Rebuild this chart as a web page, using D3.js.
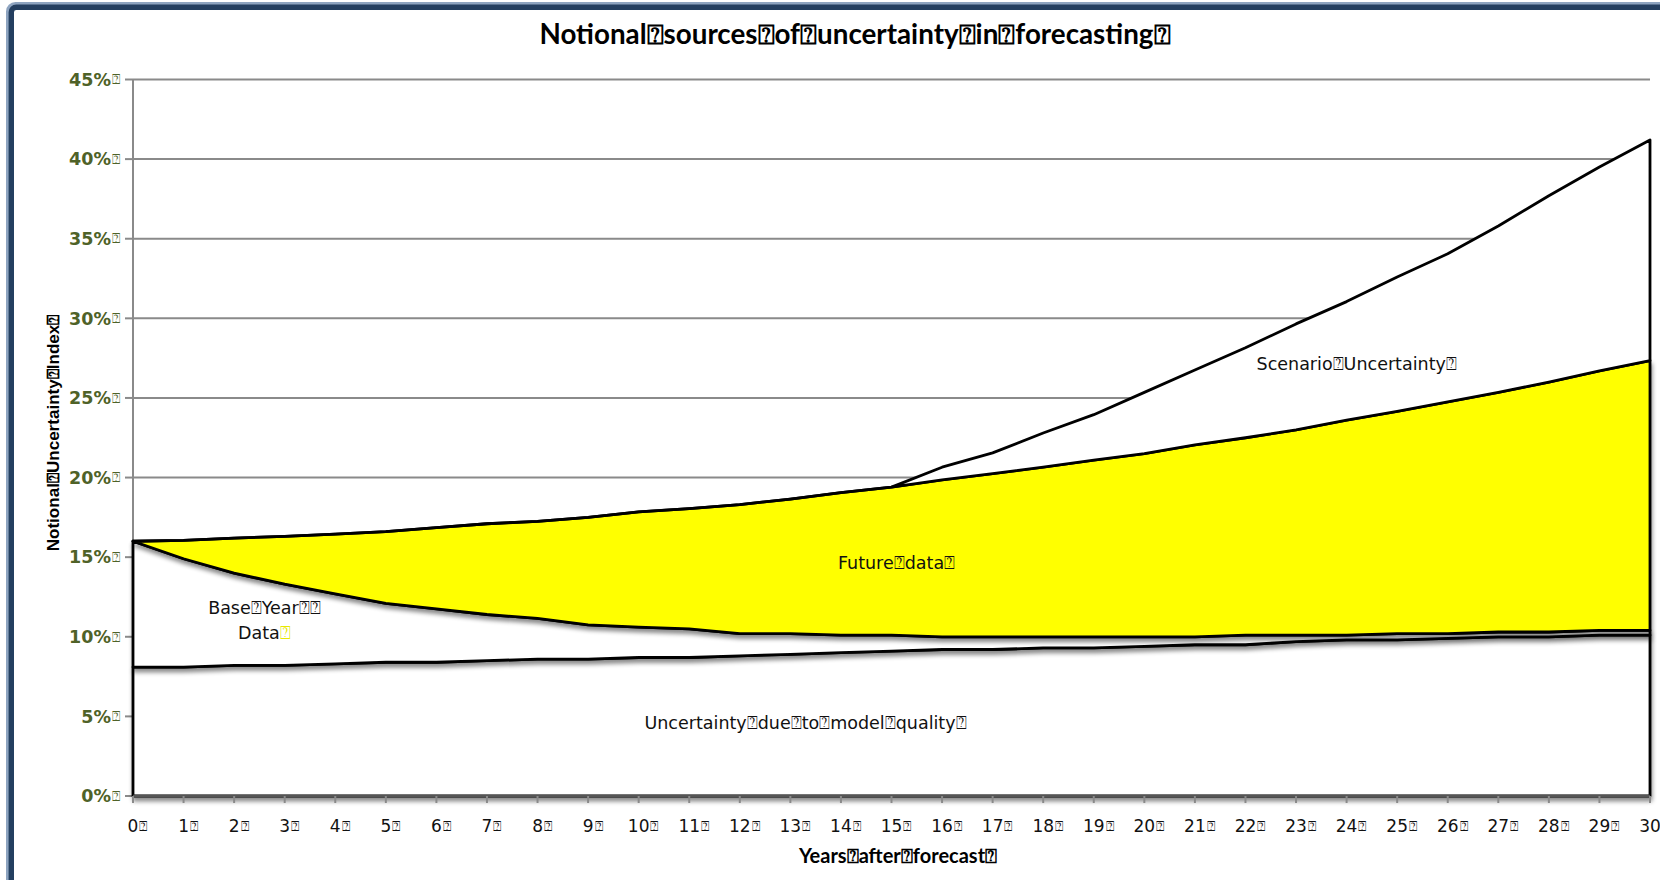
<!DOCTYPE html>
<html>
<head>
<meta charset="utf-8">
<script src="https://cdn.jsdelivr.net/npm/d3@7"></script>
<style>
  body { margin: 0; background: #fff; }
</style>
</head>
<body>
<svg id="chart" width="1660" height="880"></svg>
<script>
// years after forecast
var years = [0,1,2,3,4,5,6,7,8,9,10,11,12,13,14,15,16,17,18,19,20,21,22,23,24,25,26,27,28,29,30];

// stacked series, % points each
var modelQuality = [8.1,8.1,8.2,8.2,8.3,8.4,8.4,8.5,8.6,8.6,8.7,8.7,8.8,8.9,9.0,9.1,9.2,9.2,9.3,9.3,9.4,9.5,9.5,9.7,9.8,9.8,9.9,10.0,10.0,10.1,10.1];
var baseYearData = [7.9,6.8,5.8,5.1,4.4,3.7,3.35,2.9,2.55,2.15,1.9,1.8,1.4,1.3,1.1,1.0,0.8,0.8,0.7,0.7,0.6,0.5,0.6,0.4,0.3,0.4,0.3,0.3,0.3,0.3,0.3];
var futureData = [0,1.15,2.2,3.0,3.75,4.5,5.1,5.7,6.1,6.75,7.25,7.55,8.1,8.45,8.95,9.3,9.85,10.25,10.65,11.1,11.5,12.05,12.4,12.9,13.5,13.95,14.55,15.05,15.7,16.3,16.95];
var scenarioUncertainty = [0,0,0,0,0,0,0,0,0,0,0,0,0,0,0,0,0.8,1.3,2.15,2.85,3.85,4.7,5.65,6.65,7.45,8.45,9.3,10.45,11.7,12.8,13.85];

var seriesKeys = ["model", "baseYear", "future", "scenario"];
var yTicks = [0,5,10,15,20,25,30,35,40,45];
var Q = "\u2370"; // the little "?" boxes that stand in for spaces in the original

var titleText = "Notional" + Q + "sources" + Q + "of" + Q + "uncertainty" + Q + "in" + Q + "forecasting" + Q;
var xTitleText = "Years" + Q + "after" + Q + "forecast" + Q;
var yTitleText = "Notional" + Q + "Uncertainty" + Q + "Index" + Q;

// in-chart labels, placed in data units; each line is a list of [text, colour] runs
var notes = [
  {lines: [[["Scenario" + Q + "Uncertainty" + Q, "#111"]]], year: 24.2, value: 26.75},
  {lines: [[["Future" + Q + "data" + Q, "#111"]]], year: 15.1, value: 14.25},
  {lines: [[["Base" + Q + "Year" + Q + Q, "#111"]], [["Data", "#111"], [Q, "#E8E800"]]], year: 2.6, value: 11.45},
  {lines: [[["Uncertainty" + Q + "due" + Q + "to" + Q + "model" + Q + "quality" + Q, "#111"]]], year: 13.3, value: 4.2}
];

var svg = d3.select("#chart").style("font-family", "'DejaVu Sans', sans-serif");

var plotLeft = 133, plotRight = 1650, plotTop = 79.5, plotBottom = 796;

var x = d3.scaleLinear().domain([0, 30]).range([plotLeft, plotRight]);
var y = d3.scaleLinear().domain([0, 45]).range([plotBottom, plotTop]);

// outer frame (only top and left edges show)
svg.append("rect")
  .attr("x", 9.5).attr("y", 5.5)
  .attr("width", 1720).attr("height", 940)
  .attr("rx", 6)
  .attr("fill", "none")
  .attr("stroke", "#8EA4C0")
  .attr("stroke-width", 7);
svg.append("rect")
  .attr("x", 11.3).attr("y", 7.3)
  .attr("width", 1720).attr("height", 940)
  .attr("rx", 5)
  .attr("fill", "none")
  .attr("stroke", "#243F60")
  .attr("stroke-width", 5.4);

var defs = svg.append("defs");
var f = defs.append("filter").attr("id", "shadow")
  .attr("x", "-5%").attr("y", "-10%").attr("width", "110%").attr("height", "130%");
f.append("feDropShadow")
  .attr("dx", 1).attr("dy", 4)
  .attr("stdDeviation", 2.2)
  .attr("flood-color", "#000")
  .attr("flood-opacity", 0.45);

// gridlines
svg.append("g").selectAll("line")
  .data(yTicks.filter(function(d) { return d > 0; }))
  .enter().append("line")
  .attr("x1", plotLeft).attr("x2", plotRight)
  .attr("y1", function(d) { return y(d); })
  .attr("y2", function(d) { return y(d); })
  .attr("stroke", "#8A8A8A")
  .attr("stroke-width", 2);

// y axis
var yAxis = svg.append("g").attr("transform", "translate(" + plotLeft + ",0)");
yAxis.append("line")
  .attr("y1", y(45)).attr("y2", y(0))
  .attr("stroke", "#8A8A8A").attr("stroke-width", 2);
var yt = yAxis.selectAll("g.tick").data(yTicks).enter().append("g")
  .attr("class", "tick")
  .attr("transform", function(d) { return "translate(0," + y(d) + ")"; });
yt.append("line").attr("x1", -8).attr("x2", 0).attr("stroke", "#8A8A8A").attr("stroke-width", 2);
yt.append("text")
  .attr("x", -22).attr("dy", "0.36em")
  .attr("text-anchor", "end")
  .attr("font-weight", "bold")
  .attr("font-size", 17.5)
  .attr("fill", "#4F6228")
  .text(function(d) { return d + "%"; });
yt.append("text")
  .attr("x", -21).attr("dy", "0.34em")
  .attr("font-size", 14)
  .attr("fill", "#4F6228")
  .text(Q);

// stacked areas
var table = years.map(function(yr, i) {
  return {year: yr, model: modelQuality[i], baseYear: baseYearData[i], future: futureData[i], scenario: scenarioUncertainty[i]};
});
var stacked = d3.stack().keys(seriesKeys)(table);
var fills = {model: "#FFFFFF", baseYear: "#FFFFFF", future: "#FFFF00", scenario: "#FFFFFF"};

var area = d3.area()
  .x(function(d) { return x(d.data.year); })
  .y0(function(d) { return y(d[0]); })
  .y1(function(d) { return y(d[1]); });

svg.append("g").selectAll("path")
  .data(stacked)
  .enter().append("path")
  .attr("d", area)
  .attr("fill", function(d) { return fills[d.key]; })
  .attr("stroke", "#000")
  .attr("stroke-width", 2.8)
  .attr("stroke-linejoin", "round")
  .attr("filter", function(d) { return d.key == "scenario" ? null : "url(#shadow)"; });

// x axis
var xAxis = svg.append("g").attr("transform", "translate(0," + plotBottom + ")");
xAxis.append("line")
  .attr("x1", plotLeft).attr("x2", plotRight)
  .attr("stroke", "#555").attr("stroke-width", 2.5);
var xt = xAxis.selectAll("g.tick").data(years).enter().append("g")
  .attr("class", "tick")
  .attr("transform", function(d) { return "translate(" + x(d) + ",0)"; });
xt.append("line").attr("y1", 0).attr("y2", 7).attr("stroke", "#8A8A8A").attr("stroke-width", 2);
xt.each(function(d) {
  var g = d3.select(this);
  var t = g.append("text")
    .attr("y", 36)
    .attr("text-anchor", "middle")
    .attr("font-size", 17)
    .attr("fill", "#111")
    .text(d);
  var w = t.node().getComputedTextLength();
  if (d < 30) {
    g.append("text")
      .attr("x", w / 2 + 1).attr("y", 35)
      .attr("font-size", 14)
      .attr("fill", "#111")
      .text(Q);
  }
});

// labels inside the plot
notes.forEach(function(n) {
  n.lines.forEach(function(runs, i) {
    var t = svg.append("text")
      .attr("x", x(n.year)).attr("y", y(n.value) + i * 25)
      .attr("text-anchor", "middle")
      .attr("font-size", 17.5);
    runs.forEach(function(r) {
      t.append("tspan").attr("fill", r[1]).text(r[0]);
    });
  });
});

// fit a text element to a target width by its font size
function fitWidth(sel, width) {
  var size = parseFloat(sel.attr("font-size"));
  var w = sel.node().getComputedTextLength();
  sel.attr("font-size", size * width / w);
}

var title = svg.append("text")
  .attr("x", 855).attr("y", 44)
  .attr("text-anchor", "middle")
  .style("font-family", "Lato, 'Open Sans', sans-serif")
  .attr("font-weight", "bold")
  .attr("font-size", 26)
  .attr("fill", "#000")
  .text(titleText);
fitWidth(title, 632);

var xTitle = svg.append("text")
  .attr("x", 898).attr("y", 863)
  .attr("text-anchor", "middle")
  .style("font-family", "Lato, 'Open Sans', sans-serif")
  .attr("font-weight", "bold")
  .attr("font-size", 18)
  .attr("fill", "#000")
  .text(xTitleText);
fitWidth(xTitle, 199);

var yTitle = svg.append("text")
  .attr("transform", "translate(59,433) rotate(-90)")
  .attr("text-anchor", "middle")
  .style("font-family", "'Liberation Sans', Arial, sans-serif")
  .attr("font-weight", "bold")
  .attr("font-size", 17)
  .attr("fill", "#000")
  .text(yTitleText);
fitWidth(yTitle, 237);
</script>
</body>
</html>
